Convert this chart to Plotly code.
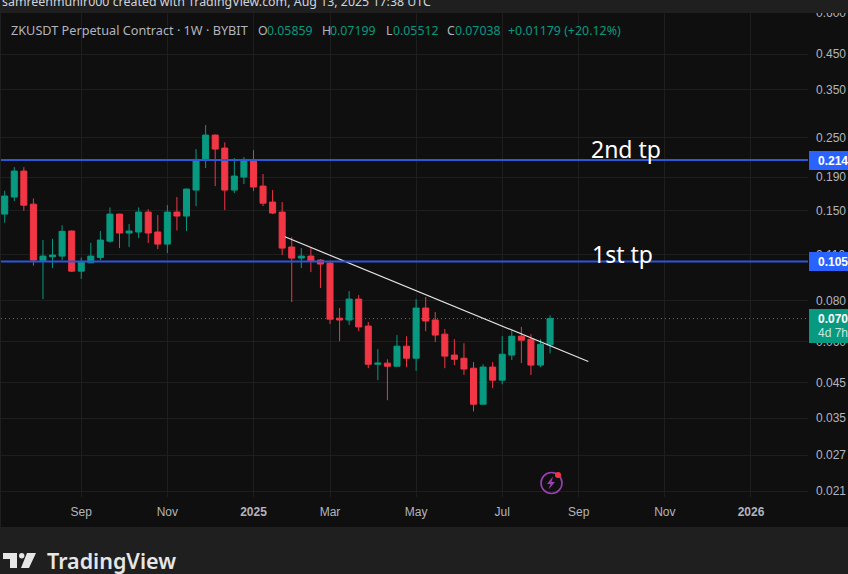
import pandas as pd
import plotly.graph_objects as go

# Weekly ZKUSDT candles
first_week = "2024-07-08"
opens = [.1465,.1651,.1981,.1571,.1056,.1086,.1091,.1301,.0982,.1041,.1081,.1212,.1465,.1283,.1292,.1486,.1292,.1187,.1486,.1445,
         .1734,.2140,.2550,.2328,.1734,.1899,.2140,.1783,.1594,.1486,.1163,.1076,.1091,.1061,.1039,.0706,.0697,.0807,.0668,.0511,
         .0515,.0504,.0580,.0533,.0758,.0697,.0631,.0545,.0533,.0497,.0386,.0501,.0457,.0545,.0622,.0609,.0508,.05859]
highs = [.1725,.2037,.2037,.1634,.1221,.1232,.1354,.1305,.1081,.1198,.1301,.1535,.1468,.1366,.1535,.1517,.1455,.1560,.1651,.1752,
         .2311,.2735,.2560,.2423,.2170,.2185,.2295,.1940,.1734,.1594,.1245,.1154,.1154,.1068,.1049,.0758,.0854,.0830,.0687,.0568,
         .0529,.0627,.0622,.0807,.0819,.0737,.0654,.0609,.0592,.0519,.0511,.0519,.0622,.0649,.0664,.0631,.0609,.07199]
lows = [.1379,.1605,.1500,.1020,.0807,.1003,.1061,.0977,.0930,.1041,.1061,.1198,.1154,.1163,.1238,.1196,.1146,.1114,.1306,.1301,
        .1549,.2023,.1783,.1507,.1698,.1808,.1722,.1549,.1465,.1099,.0791,.1003,.0975,.0872,.0678,.0601,.0673,.0644,.0497,.0457,
        .0397,.0504,.0501,.0488,.0644,.0597,.0497,.0508,.0474,.0367,.0386,.0432,.0444,.0526,.0515,.0474,.0501,.05512]
closes = [.1663,.1981,.1560,.1061,.1091,.1099,.1298,.0982,.1046,.1091,.1221,.1465,.1283,.1301,.1486,.1283,.1187,.1486,.1445,.1746,
          .2150,.2550,.2311,.1734,.1913,.2150,.1771,.1582,.1476,.1154,.1076,.1091,.1054,.1032,.0701,.0697,.0807,.0664,.0511,.0515,
          .0504,.0580,.0533,.0758,.0692,.0627,.0541,.0529,.0494,.0386,.0501,.0457,.0548,.0622,.0605,.0508,.0588,.07038]

# Drawn levels and the descending trend line
tp_levels = [0.214, 0.105]
tp_names = ["2nd tp", "1st tp"]
last_price = 0.07038
trend_dates = ["2025-01-29", "2025-09-08"]
trend_prices = [0.1250, 0.0521]

# Axis labels: first weekly bar of each alternate month
price_ticks = [0.600, 0.450, 0.350, 0.250, 0.190, 0.150, 0.110, 0.080, 0.060, 0.045, 0.035, 0.027, 0.021]
time_ticks = ["2024-09-02", "2024-11-04", "2025-01-06", "2025-03-03", "2025-05-05", "2025-07-07", "2025-09-01", "2025-11-03", "2026-01-05"]
time_labels = ["Sep", "Nov", "<b>2025</b>", "Mar", "May", "Jul", "Sep", "Nov", "<b>2026</b>"]

UP = "#089981"
DOWN = "#f23645"
BLUE = "#2962ff"
LEVEL = "#2b57d9"
PANEL = "#0f0f0f"
FRAME = "#1f1f1f"
GRID = "#1e1e1e"
MUTED = "#b2b5be"
LOGO = "#e6e6e6"
FONT = "Noto Sans"

W, H = 848, 574
L, R, T, B = 1, 808, 13, 497


def px(x):
    return (x - L) / (R - L)


def py(y):
    return (B - y) / (B - T)


def rect(x0, y0, x1, y1, color, layer="above"):
    return dict(type="rect", xref="paper", yref="paper", x0=px(x0), x1=px(x1), y0=py(y1), y1=py(y0),
                fillcolor=color, line_width=0, layer=layer)


def path(points, color=None, line=None, width=1):
    d = "M" + " L".join(f"{px(x):.5f},{py(y):.5f}" for x, y in points) + " Z"
    return dict(type="path", xref="paper", yref="paper", path=d, fillcolor=color or "rgba(0,0,0,0)",
                line=dict(color=line or "rgba(0,0,0,0)", width=width), layer="above")


def label(x, y, text, color, size=12, anchor="left", weight=400, family=FONT):
    return dict(xref="paper", yref="paper", x=px(x), y=py(y), text=text, showarrow=False, xanchor=anchor,
                yanchor="middle", font=dict(color=color, size=size, family=family, weight=weight))


dates = pd.date_range(first_week, periods=len(closes), freq="7D")

fig = go.Figure()
fig.add_trace(go.Candlestick(
    x=dates, open=opens, high=highs, low=lows, close=closes,
    increasing=dict(line=dict(color=UP, width=1), fillcolor=UP),
    decreasing=dict(line=dict(color=DOWN, width=1), fillcolor=DOWN),
    whiskerwidth=0, showlegend=False,
))
fig.add_trace(go.Scatter(x=trend_dates, y=trend_prices, mode="lines",
                         line=dict(color="#e4e4e4", width=1.2), showlegend=False))

shapes = [
    rect(0, 0, W, H, FRAME, "below"),
    rect(1, T, W, 527, PANEL, "below"),
]
for level in tp_levels:
    shapes.append(dict(type="line", xref="paper", yref="y", x0=0, x1=1, y0=level, y1=level,
                       line=dict(color=LEVEL, width=2), layer="above"))
shapes.append(dict(type="line", xref="paper", yref="y", x0=0, x1=1, y0=last_price, y1=last_price,
                   line=dict(color=UP, width=1, dash="1px,3px"), layer="below"))
# Price tags on the right-hand scale and the header strip that clips the top of it
shapes += [
    rect(0, 0, W, T, FRAME),
    rect(809, 151, W, 170, BLUE),
    rect(809, 252, W, 271, BLUE),
    rect(809, 309, W, 343, UP),
]
# Notification badge
ring = dict(type="circle", xref="paper", yref="paper", x0=px(541), x1=px(562), y0=py(493.5), y1=py(472.5),
            line=dict(color="#9c3fb5", width=1.6), layer="above")
dot = dict(type="circle", xref="paper", yref="paper", x0=px(555), x1=px(561), y0=py(478), y1=py(472),
           fillcolor="#f23645", line_width=0, layer="above")
bolt = path([(553, 476.5), (547, 484), (550.5, 484), (548.5, 489.5), (555, 482), (551.5, 482)], color="#9c3fb5")
shapes += [ring, dot, bolt]
# TradingView mark
logo_dot = dict(type="circle", xref="paper", yref="paper", x0=px(19), x1=px(24.4), y0=py(558.4), y1=py(553),
                fillcolor=LOGO, line_width=0, layer="above")
shapes += [
    path([(3, 553), (17, 553), (17, 568), (10, 568), (10, 559), (3, 559)], color=LOGO),
    path([(27, 553), (36, 553), (29, 568), (21, 568)], color=LOGO),
    logo_dot,
]

annotations = [
    label(0, 1.5, "samreenmunir000 created with TradingView.com, Aug 13, 2025 17:38 UTC", "#d1d4dc", 12.4),
    label(9, 30, "ZKUSDT Perpetual Contract · 1W · BYBIT", MUTED, 12.7),
    label(255.5, 30, "O", MUTED, 12.3), label(264.5, 30, "0.05859", UP, 12.3),
    label(319.5, 30, "H", MUTED, 12.3), label(328, 30, "0.07199", UP, 12.3),
    label(384, 30, "L", MUTED, 12.3), label(391, 30, "0.05512", UP, 12.3),
    label(444.5, 30, "C", MUTED, 12.3), label(453, 30, "0.07038", UP, 12.3),
    label(506, 30, "+0.01179 (+20.12%)", UP, 12.4),
    label(589, 149, tp_names[0], "#ffffff", 23),
    label(590, 254, tp_names[1], "#ffffff", 23),
    label(816, 161, f"{tp_levels[0]:.3f}", "#ffffff", 12, weight=700, family="Liberation Sans"),
    label(816, 262, f"{tp_levels[1]:.3f}", "#ffffff", 12, weight=700, family="Liberation Sans"),
    label(816, 319, f"{last_price:.3f}", "#ffffff", 12, weight=700, family="Liberation Sans"),
    label(816, 333, "4d 7h", "#c4e8df", 12, family="Liberation Sans"),
    label(45, 560, "TradingView", LOGO, 21.5, weight=600),
]

fig.update_layout(
    width=W, height=H, margin=dict(l=L, r=W - R, t=T, b=H - B, autoexpand=False),
    paper_bgcolor=FRAME, plot_bgcolor="rgba(0,0,0,0)", boxgap=0.1, boxgroupgap=0.3,
    font=dict(family="Liberation Sans", color=MUTED, size=12),
    shapes=shapes, annotations=annotations, showlegend=False,
    xaxis=dict(type="date", range=["2024-07-05 07:00", "2026-02-15 17:00"], rangeslider=dict(visible=False),
               tickvals=time_ticks, ticktext=time_labels, showgrid=True, gridcolor=GRID, gridwidth=1,
               zeroline=False, showline=False, ticks="", ticklabelstandoff=6,
               tickfont=dict(family="Liberation Sans", size=12, color=MUTED)),
    yaxis=dict(type="log", side="right", range=[-1.6960, -0.2215], autorange=False,
               tickvals=price_ticks, ticktext=[f"{v:.3f}" for v in price_ticks],
               showgrid=True, gridcolor=GRID, gridwidth=1, zeroline=False, showline=False, ticks="",
               ticklabelstandoff=7, tickfont=dict(family="Liberation Sans", size=12, color=MUTED)),
)

fig.write_html("out.html", config=dict(displayModeBar=False))
